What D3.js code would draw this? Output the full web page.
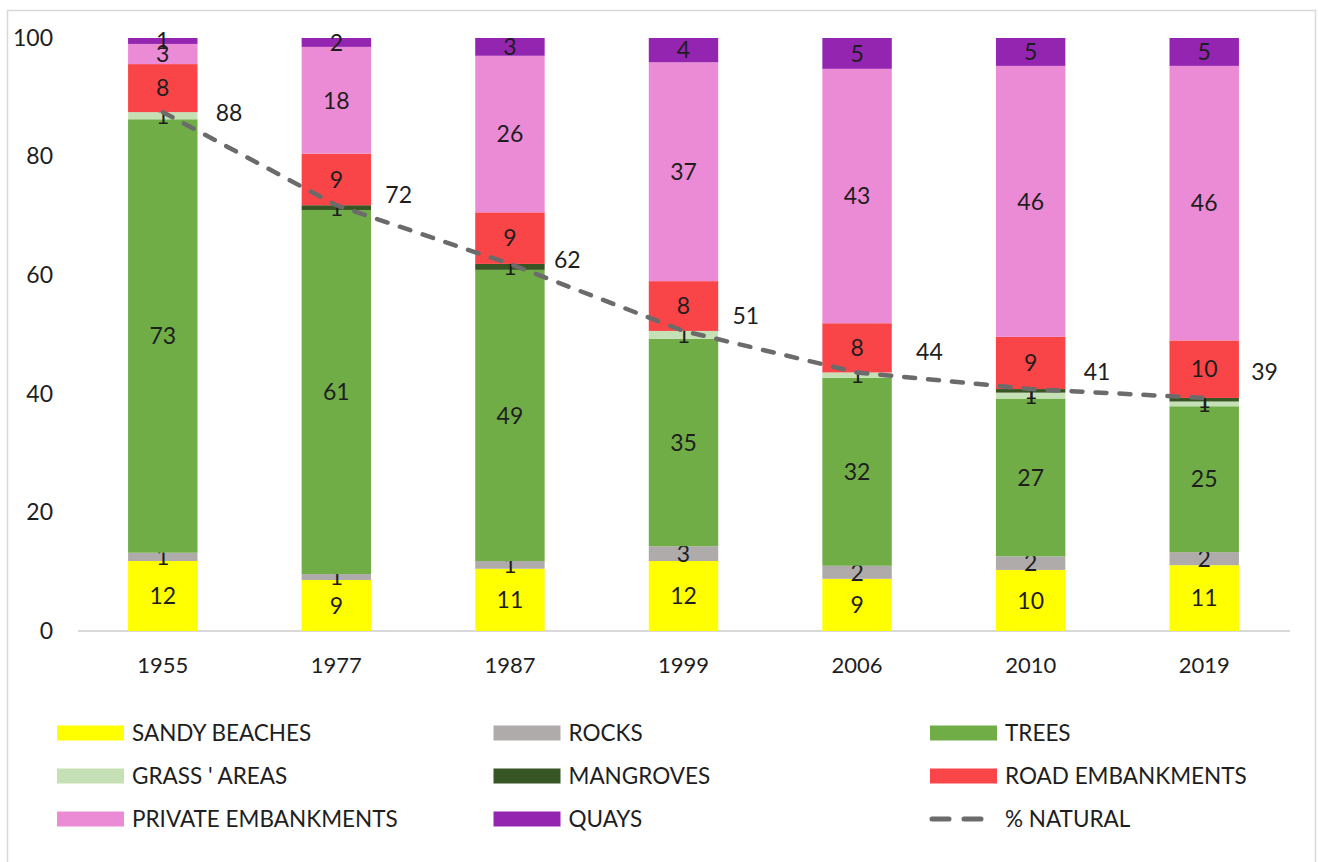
<!DOCTYPE html>
<html lang="en">
<head>
  <meta charset="UTF-8">
  <title>Coastline types</title>
  <style>
    body { margin: 0; background: #fff; }
    svg text { font-family: Lato, "Open Sans", sans-serif; fill: #1e1e1e; }
  </style>
</head>
<body>
  <svg id="chart" width="1318" height="862"></svg>

  <script src="https://d3js.org/d3.v7.min.js"></script>
  <script>
    // categories (years)
    const years = ['1955', '1977', '1987', '1999', '2006', '2010', '2019'];

    // series values (% of coastline)
    const sandyBeaches = [11.8, 8.6, 10.5, 11.8, 8.8, 10.3, 11.1];
    const rocks = [1.4, 1.0, 1.3, 2.5, 2.2, 2.3, 2.2];
    const trees = [73.1, 61.4, 49.1, 35.0, 31.7, 26.6, 24.6];
    const grassAreas = [1.2, 0, 0, 1.3, 0.9, 1.0, 0.8];
    const mangroves = [0, 0.8, 1.0, 0, 0, 0.6, 0.6];
    const roadEmbankments = [8.1, 8.7, 8.7, 8.4, 8.3, 8.8, 9.7];
    const privateEmbankments = [3.4, 18.0, 26.4, 36.9, 42.9, 45.7, 46.3];
    const quays = [1.0, 1.5, 3.0, 4.1, 5.2, 4.7, 4.7];
    const naturalPct = [87.5, 71.8, 61.9, 50.6, 43.6, 40.8, 39.3];

    const yTicks = [0, 20, 40, 60, 80, 100];

    const series = [
      { nome: 'SANDY BEACHES', valores: sandyBeaches, cor: '#FFFF00' },
      { nome: 'ROCKS', valores: rocks, cor: '#AFABAB' },
      { nome: 'TREES', valores: trees, cor: '#70AD47' },
      { nome: "GRASS ' AREAS", valores: grassAreas, cor: '#C5E0B4' },
      { nome: 'MANGROVES', valores: mangroves, cor: '#375623' },
      { nome: 'ROAD EMBANKMENTS', valores: roadEmbankments, cor: '#F94548' },
      { nome: 'PRIVATE EMBANKMENTS', valores: privateEmbankments, cor: '#EC8BD5' },
      { nome: 'QUAYS', valores: quays, cor: '#9325B0' }
    ];

    // the % natural labels were nudged by hand in the original (px)
    const rotuloDx = [53, 49, 44, 49, 59, 53, 47];
    const rotuloDy = [1, -11, -4, -15, -21, -17, -26];

    const svg = d3.select('#chart');

    // light frame around the chart area
    svg.append('rect')
      .attr('x', 7.5).attr('y', 10.5)
      .attr('width', 1308).attr('height', 870)
      .attr('fill', 'none')
      .attr('stroke', '#D9D9D9')
      .attr('stroke-width', 1.5);

    const x = d3.scaleBand()
      .domain(years)
      .range([76, 1291])
      .paddingInner(0.6)
      .paddingOuter(0.3);

    const y = d3.scaleLinear()
      .domain([0, 100])
      .range([631, 38]);

    // stack the series
    const tabela = years.map((ano, i) => {
      const linha = { ano };
      series.forEach(s => { linha[s.nome] = s.valores[i]; });
      return linha;
    });
    const pilha = d3.stack().keys(series.map(s => s.nome))(tabela);

    // baseline
    svg.append('line')
      .attr('x1', 78).attr('x2', 1290)
      .attr('y1', y(0)).attr('y2', y(0))
      .attr('stroke', '#D9D9D9')
      .attr('stroke-width', 2);

    // y axis labels (no axis line)
    const eixoY = svg.append('g')
      .attr('transform', 'translate(53,0)')
      .call(d3.axisLeft(y).tickValues(yTicks).tickSize(0).tickPadding(0));
    eixoY.select('.domain').remove();
    eixoY.selectAll('text')
      .style('font-size', '23px')
      .style('font-family', 'Lato, sans-serif')
      .attr('fill', '#1e1e1e');

    // x axis labels
    const eixoX = svg.append('g')
      .attr('transform', `translate(0,${y(0)})`)
      .call(d3.axisBottom(x).tickSize(0).tickPadding(26));
    eixoX.select('.domain').remove();
    eixoX.selectAll('text')
      .style('font-size', '22px')
      .style('font-family', 'Lato, sans-serif')
      .attr('fill', '#1e1e1e');

    // bars
    const camadas = svg.append('g').selectAll('g')
      .data(pilha)
      .enter().append('g')
      .attr('fill', (d, i) => series[i].cor);

    camadas.selectAll('rect')
      .data(d => d)
      .enter().append('rect')
      .attr('x', d => x(d.data.ano))
      .attr('y', d => y(d[1]))
      .attr('width', x.bandwidth())
      .attr('height', d => y(d[0]) - y(d[1]));

    // data labels (hidden where the value is zero)
    camadas.selectAll('text')
      .data(d => d.filter(p => p[1] - p[0] > 0))
      .enter().append('text')
      .attr('x', d => x(d.data.ano) + x.bandwidth() / 2)
      .attr('y', d => y((d[0] + d[1]) / 2))
      .attr('dy', '0.36em')
      .attr('text-anchor', 'middle')
      .style('font-size', '23px')
      .text(d => Math.round(d[1] - d[0]));

    // % natural dashed line
    const linha = d3.line()
      .x((d, i) => x(years[i]) + x.bandwidth() / 2)
      .y(d => y(d));

    svg.append('path')
      .datum(naturalPct)
      .attr('d', linha)
      .attr('fill', 'none')
      .attr('stroke', '#6B6B6B')
      .attr('stroke-width', 4.5)
      .attr('stroke-linecap', 'round')
      .attr('stroke-dasharray', '11,13');

    svg.append('g').selectAll('text')
      .data(naturalPct)
      .enter().append('text')
      .attr('x', (d, i) => x(years[i]) + x.bandwidth() / 2 + rotuloDx[i])
      .attr('y', (d, i) => y(d) + rotuloDy[i])
      .attr('dy', '0.36em')
      .style('font-size', '23px')
      .text(d => Math.round(d));

    // legend
    const legendaItens = series.map(s => ({ nome: s.nome, cor: s.cor, tipo: 'barra' }));
    legendaItens.push({ nome: '% NATURAL', cor: '#6B6B6B', tipo: 'linha' });

    const legenda = svg.append('g').selectAll('g')
      .data(legendaItens)
      .enter().append('g')
      .attr('transform', (d, i) => `translate(${57 + (i % 3) * 436.5},${733 + Math.floor(i / 3) * 43})`);

    legenda.filter(d => d.tipo === 'barra').append('rect')
      .attr('x', 0).attr('y', -7.5)
      .attr('width', 67).attr('height', 15)
      .attr('fill', d => d.cor);

    legenda.filter(d => d.tipo === 'linha').append('line')
      .attr('x1', 2).attr('x2', 54)
      .attr('y1', 0).attr('y2', 0)
      .attr('stroke', d => d.cor)
      .attr('stroke-width', 5)
      .attr('stroke-linecap', 'round')
      .attr('stroke-dasharray', '17,15');

    legenda.append('text')
      .attr('x', 75)
      .attr('y', 0)
      .attr('dy', '0.36em')
      .style('font-size', '22.5px')
      .attr('fill', '#262626')
      .text(d => d.nome);
  </script>
</body>
</html>
